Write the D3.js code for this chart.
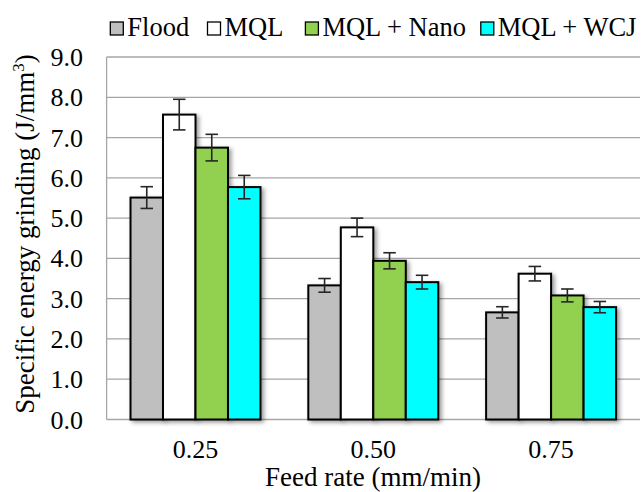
<!DOCTYPE html>
<html>
<head>
<meta charset="utf-8">
<script src="https://cdn.jsdelivr.net/npm/d3@7"></script>
<style>
  body { margin: 0; background: #fff; }
  svg text { font-family: "Liberation Serif", "Times New Roman", serif; fill: #000; }
</style>
</head>
<body>
<svg id="vis" width="644" height="492"></svg>
<script>
// feed rates on the x axis
let feedRates = ["0.25", "0.50", "0.75"];
let seriesNames = ["Flood", "MQL", "MQL + Nano", "MQL + WCJ"];
let seriesColors = ["#bfbfbf", "#ffffff", "#92d050", "#00ffff"];

// specific energy per series, one value per feed rate
let flood = [5.51, 3.33, 2.66];
let mql = [7.57, 4.77, 3.62];
let mqlNano = [6.75, 3.94, 3.08];
let mqlWcj = [5.77, 3.41, 2.79];

// error bar half heights
let floodErr = [0.27, 0.17, 0.14];
let mqlErr = [0.38, 0.23, 0.18];
let mqlNanoErr = [0.33, 0.20, 0.16];
let mqlWcjErr = [0.29, 0.17, 0.14];

let yTicks = [0, 1, 2, 3, 4, 5, 6, 7, 8, 9];

function drawChart() {
  let svg = d3.select("#vis");
  let left = 106.6, right = 640, top = 57, bottom = 419.5;

  let values = [flood, mql, mqlNano, mqlWcj];
  let errors = [floodErr, mqlErr, mqlNanoErr, mqlWcjErr];

  let x0 = d3.scaleBand()
             .domain(feedRates)
             .range([left, right])
             .paddingInner(0.269)
             .paddingOuter(0.1345);
  let x1 = d3.scaleBand()
             .domain(seriesNames)
             .range([0, x0.bandwidth()]);
  let y = d3.scaleLinear()
            .domain([0, 9])
            .range([bottom, top]);

  let defs = svg.append("defs");
  let filter = defs.append("filter")
                   .attr("id", "shadow")
                   .attr("x", "-20%").attr("y", "-20%")
                   .attr("width", "150%").attr("height", "150%");
  filter.append("feDropShadow")
        .attr("dx", 2.5).attr("dy", 2)
        .attr("stdDeviation", 2.2)
        .attr("flood-color", "#000")
        .attr("flood-opacity", 0.4);

  // gridlines
  svg.append("g")
    .selectAll("line")
    .data(yTicks)
    .enter()
    .append("line")
    .attr("x1", left)
    .attr("x2", right)
    .attr("y1", d => y(d))
    .attr("y2", d => y(d))
    .attr("stroke", "#a6a6a6")
    .attr("stroke-width", 1.3);

  // left axis line + tick labels
  svg.append("line")
    .attr("x1", left).attr("x2", left)
    .attr("y1", y(0)).attr("y2", y(9))
    .attr("stroke", "#a6a6a6")
    .attr("stroke-width", 1.3);
  svg.append("g")
    .selectAll("text")
    .data(yTicks)
    .enter()
    .append("text")
    .attr("x", 83)
    .attr("y", d => y(d) + 9)
    .attr("text-anchor", "end")
    .style("font-size", "26px")
    .text(d => d3.format(".1f")(d));

  // bars
  let groups = svg.append("g")
    .selectAll("g")
    .data(seriesNames)
    .enter()
    .append("g");

  groups.each(function(name, s) {
    let g = d3.select(this);
    g.selectAll("rect")
      .data(feedRates)
      .enter()
      .append("rect")
      .attr("x", (d) => x0(d) + x1(name))
      .attr("y", (d, i) => y(values[s][i]))
      .attr("width", x1.bandwidth())
      .attr("height", (d, i) => bottom - y(values[s][i]))
      .attr("fill", seriesColors[s])
      .attr("stroke", "#000")
      .attr("stroke-width", 2)
      .attr("filter", "url(#shadow)");
  });

  // error bars
  let capW = 12.5;
  groups.each(function(name, s) {
    let g = d3.select(this);
    feedRates.forEach((d, i) => {
      let cx = x0(d) + x1(name) + x1.bandwidth() / 2;
      let hi = y(values[s][i] + errors[s][i]);
      let lo = y(values[s][i] - errors[s][i]);
      let eb = g.append("g")
        .attr("stroke", "#262626")
        .attr("stroke-width", 1.6);
      eb.append("line").attr("x1", cx).attr("x2", cx).attr("y1", hi).attr("y2", lo);
      eb.append("line").attr("x1", cx - capW / 2).attr("x2", cx + capW / 2).attr("y1", hi).attr("y2", hi);
      eb.append("line").attr("x1", cx - capW / 2).attr("x2", cx + capW / 2).attr("y1", lo).attr("y2", lo);
    });
  });

  // x tick labels
  svg.append("g")
    .selectAll("text")
    .data(feedRates)
    .enter()
    .append("text")
    .attr("x", d => x0(d) + x0.bandwidth() / 2)
    .attr("y", 458)
    .attr("text-anchor", "middle")
    .style("font-size", "26px")
    .text(d => d);

  // axis titles
  svg.append("text")
    .attr("x", 373)
    .attr("y", 486)
    .attr("text-anchor", "middle")
    .style("font-size", "27px")
    .text("Feed rate (mm/min)");

  let yt = svg.append("text")
    .attr("x", -234)
    .attr("y", 34)
    .attr("transform", "rotate(-90)")
    .attr("text-anchor", "middle")
    .style("font-size", "27px");
  yt.append("tspan").text("Specific energy grinding (J/mm");
  yt.append("tspan").attr("dy", -10).style("font-size", "17px").text("3");
  yt.append("tspan").attr("dy", 10).text(")");

  // legend
  let legendX = [110.3, 207.5, 305.4, 480.8];
  svg.append("g")
    .selectAll("rect")
    .data(seriesNames)
    .enter()
    .append("rect")
    .attr("x", (d, i) => legendX[i])
    .attr("y", 22)
    .attr("width", 13)
    .attr("height", 13)
    .attr("fill", (d, i) => seriesColors[i])
    .attr("stroke", "#000")
    .attr("stroke-width", 1.3);
  svg.append("g")
    .selectAll("text")
    .data(seriesNames)
    .enter()
    .append("text")
    .attr("x", (d, i) => legendX[i] + 17)
    .attr("y", 36)
    .style("font-size", "26.5px")
    .text(d => d);
}

drawChart();
</script>
</body>
</html>
